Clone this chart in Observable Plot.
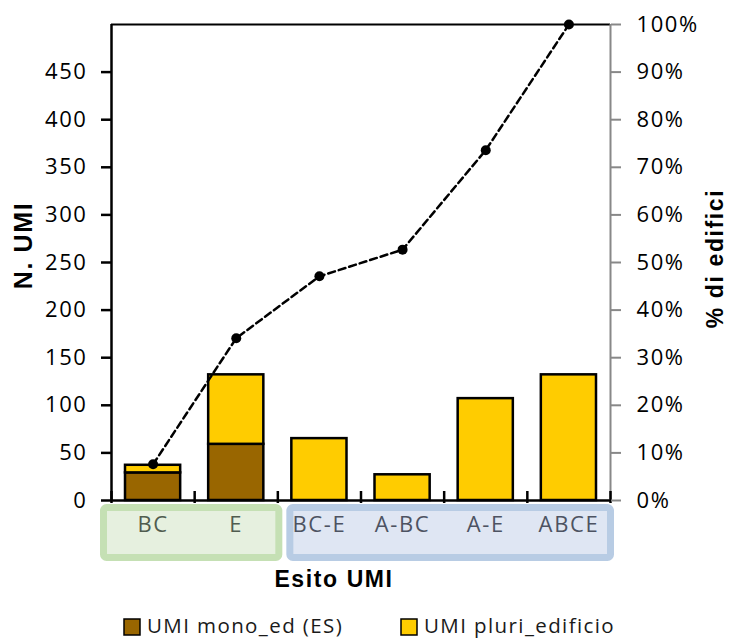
<!DOCTYPE html>
<html>
<head>
<meta charset="utf-8">
<script src="https://cdn.jsdelivr.net/npm/d3@7"></script>
<script src="https://cdn.jsdelivr.net/npm/@observablehq/plot@0.6"></script>
<style>
  html, body { margin: 0; padding: 0; background: #fff; }
  #chart svg text { letter-spacing: 1.6px; }
</style>
</head>
<body>
<div id="chart"></div>
<script>
// ---- Data ----
const categories = ["BC", "E", "BC-E", "A-BC", "A-E", "ABCE"];
const monoValues = [29, 59, 0, 0, 0, 0];        // UMI mono_ed (ES)
const pluriValues = [8, 73, 65, 27, 107, 132];  // UMI pluri_edificio
const cumPct = [7.6, 34.1, 47.1, 52.7, 73.6, 100]; // % di edifici (cumulative)
const seriesNames = ["UMI mono_ed (ES)", "UMI pluri_edificio"];
const seriesColors = ["#996600", "#ffcc00"];
const leftTicks = [0, 50, 100, 150, 200, 250, 300, 350, 400, 450];
const rightTicks = [0, 10, 20, 30, 40, 50, 60, 70, 80, 90, 100];
const groups = [
  {from: 0, to: 2, border: "#c5e0b4", fill: "#e6f0df", text: "#505c4f", padL: -11, padR: 5},
  {from: 2, to: 6, border: "#b8cce4", fill: "#dfe6f3", text: "#4d5362", padL: 9, padR: 4}
];
const yMax = 500;
const pctToY = p => p / 100 * yMax;

// stacked rows
const rows = [];
categories.forEach((c, i) => {
  if (monoValues[i] > 0) rows.push({i, series: seriesNames[0], y1: 0, y2: monoValues[i]});
  if (pluriValues[i] > 0) rows.push({i, series: seriesNames[1], y1: monoValues[i], y2: monoValues[i] + pluriValues[i]});
});
const catGroup = i => groups.find(g => i >= g.from && i < g.to);

// group boxes (render function)
function groupBoxes(index, scales) {
  const g = d3.create("svg:g");
  const top = 504, bottom = 561, sw = 7;
  groups.forEach(gr => {
    const x1 = scales.x(gr.from) + gr.padL, x2 = scales.x(gr.to) + gr.padR;
    g.append("rect")
      .attr("x", x1 + sw / 2).attr("y", top + sw / 2)
      .attr("width", x2 - x1 - sw).attr("height", bottom - top - sw)
      .attr("rx", 3)
      .attr("fill", gr.fill).attr("stroke", gr.border).attr("stroke-width", sw);
  });
  return g.node();
}

function legend() {
  const g = d3.create("svg:g");
  const items = [{x: 124}, {x: 401}];
  items.forEach((it, k) => {
    g.append("rect").attr("x", it.x).attr("y", 619).attr("width", 16).attr("height", 16)
      .attr("fill", seriesColors[k]).attr("stroke", "#000").attr("stroke-width", 1.5);
    g.append("text").attr("x", it.x + 23).attr("y", 633)
      .attr("text-anchor", "start")
      .attr("font-size", 20.5).attr("fill", "#1a1a1a").style("letter-spacing", "1.4px")
      .text(seriesNames[k]);
  });
  return g.node();
}

const titleFont = "'Liberation Sans', Arial, sans-serif";

const chart = Plot.plot({
  width: 730,
  height: 639,
  marginLeft: 111,
  marginRight: 120,
  marginTop: 24,
  marginBottom: 139,
  x: {domain: [0, categories.length], axis: null},
  y: {domain: [0, yMax], axis: null},
  color: {domain: seriesNames, range: seriesColors},
  style: {fontFamily: "'Open Sans', sans-serif", fontSize: "21px", color: "#000", background: "#fff", overflow: "visible"},
  marks: [
    groupBoxes,
    Plot.rectY(rows, {x1: "i", x2: d => d.i + 1, y1: "y1", y2: "y2", fill: "series",
      insetLeft: 14, insetRight: 14, stroke: "#000", strokeWidth: 2.5}),
    Plot.ruleY([0], {stroke: "#000", strokeWidth: 2.5}),
    Plot.ruleY([yMax], {stroke: "#000", strokeWidth: 2}),
    Plot.ruleX([0], {stroke: "#000", strokeWidth: 2.5}),
    Plot.ruleX([categories.length], {stroke: "#888", strokeWidth: 2}),
    Plot.ruleX(d3.range(categories.length + 1), {stroke: "#000", strokeWidth: 2.5, insetTop: 467, insetBottom: -3}),
    Plot.axisY({anchor: "left", ticks: leftTicks, tickSize: 10, tickPadding: 14, label: null,
      strokeWidth: 2.5, fontSize: 22}),
    Plot.axisY({anchor: "right", ticks: rightTicks.map(pctToY), tickFormat: v => Math.round(v / yMax * 100) + "%",
      tickSize: 10, tickPadding: 16, label: null, stroke: "#888", strokeWidth: 2, fill: "#000", fontSize: 22}),
    Plot.text(categories, {x: (d, i) => i + 0.5, y: 0, dy: 24, text: d => d, fontSize: 22,
      fill: (d, i) => catGroup(i).text}),
    Plot.line(categories, {x: (d, i) => i + 0.5, y: (d, i) => pctToY(cumPct[i]),
      stroke: "#000", strokeWidth: 2.5, strokeDasharray: "7,4"}),
    Plot.dot(categories, {x: (d, i) => i + 0.5, y: (d, i) => pctToY(cumPct[i]), r: 5, fill: "#000"}),
    Plot.text(["Esito UMI"], {frameAnchor: "bottom", dx: -27, dy: 86, text: d => d, fontSize: 23, fontWeight: "bold",
      fontFamily: titleFont, fill: "#000", textAnchor: "middle"}),
    Plot.text(["N. UMI"], {frameAnchor: "left", dx: -88, dy: -17, rotate: -90, text: d => d, fontSize: 25,
      fontWeight: "bold", fontFamily: titleFont, fill: "#000", textAnchor: "middle"}),
    Plot.text(["% di edifici"], {frameAnchor: "right", dx: 105, dy: -4, rotate: -90, text: d => d, fontSize: 23,
      fontWeight: "bold", fontFamily: titleFont, fill: "#000", textAnchor: "middle"}),
    legend
  ]
});
document.getElementById("chart").appendChild(chart);
</script>
</body>
</html>
